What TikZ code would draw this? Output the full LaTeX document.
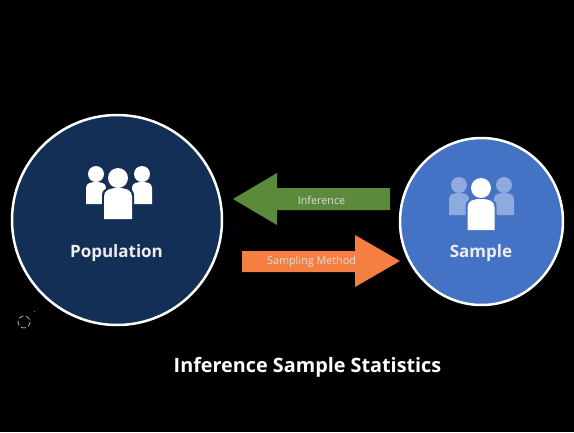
\documentclass[tikz,border=0pt]{standalone}
\usetikzlibrary{shapes.geometric}
\usepackage{fontspec}
\setmainfont{Open Sans}
\definecolor{popblue}{HTML}{132F56}
\definecolor{samblue}{HTML}{4472C4}
\definecolor{sampale}{HTML}{8FAADC}
\definecolor{arrgreen}{HTML}{5B8A3A}
\definecolor{arrorange}{HTML}{F57F41}
\tikzset{
  x=1pt,y=-1pt,
  bigcircle/.style={ellipse,draw=white,line width=2.5pt,inner sep=0pt},
  arrowlabel/.style={text=white!88!black,font=\fontsize{10.8}{12}\selectfont,inner sep=0pt},
  circlelabel/.style={text=white!93!black,font=\fontsize{17}{20}\selectfont\bfseries,inner sep=0pt,anchor=base},
}
% #1 centre x, #2 head y, #3 head radius, #4 half width, #5 body top, #6 body bottom, #7 colour
\newcommand{\personshape}[7]{%
  \fill[#7] (#1,#2) circle[radius=#3];
  \fill[#7] (#1-#4,#6) -- (#1-#4,#5+#4*0.6)
     .. controls (#1-#4,#5+#4*0.15) and (#1-#4*0.6,#5) .. (#1,#5)
     .. controls (#1+#4*0.6,#5) and (#1+#4,#5+#4*0.15) .. (#1+#4,#5+#4*0.6)
     -- (#1+#4,#6) -- cycle;
}
\begin{document}
\begin{tikzpicture}
\useasboundingbox (0,0) rectangle (574,432);
\fill[black] (0,0) rectangle (574,432);

\node[bigcircle,fill=popblue,minimum width=210pt,minimum height=210pt] (pop) at (117,220) {};
\node[bigcircle,fill=samblue,minimum width=163pt,minimum height=167pt] (sam) at (481.5,221.5) {};

% population people
\personshape{96}{174}{8}{10}{182}{204}{white}
\personshape{142}{174}{8}{10}{182}{204}{white}
\fill[popblue] (118,178) circle[radius=12];
\personshape{118}{178}{10}{16}{186}{221}{popblue}
\personshape{118}{178}{10}{14}{188}{219}{white}

% sample people
\personshape{459}{185}{8}{10}{193}{215}{sampale}
\personshape{504}{185}{8}{10}{193}{215}{sampale}
\fill[samblue] (481,188) circle[radius=12];
\personshape{481}{188}{10}{15.5}{197}{232}{samblue}
\personshape{481}{188}{10}{13.5}{199}{230}{white}

\node[circlelabel] (poplabel) at (116.5,257.5) {Population};
\node[circlelabel] (samlabel) at (481,257.5) {Sample};

% arrows
\fill[arrgreen] (233,199) -- (277,173) -- (277,188) -- (390,188) -- (390,210) -- (277,210) -- (277,225) -- cycle;
\fill[arrorange] (242,251) -- (355,251) -- (355,235) -- (400,261) -- (355,287) -- (355,272) -- (242,272) -- cycle;
\node[arrowlabel] (inf) at (321.5,200) {Inference};
\node[arrowlabel] (smp) at (311.5,262) {Sampling Method};

\node[text=white,font=\fontsize{19.8}{22}\selectfont\bfseries,inner sep=0pt] (title) at (307.5,367.5) {Inference Sample Statistics};

% small specks
\draw[white!70!black,line width=0.8pt,dash pattern=on 5pt off 2.5pt] (24,322) circle[radius=6];
\fill[white!60!black] (34.5,311.5) circle[radius=0.5];
\fill[blue!80!black] (237,229.5) circle[radius=0.8];
\end{tikzpicture}
\end{document}
